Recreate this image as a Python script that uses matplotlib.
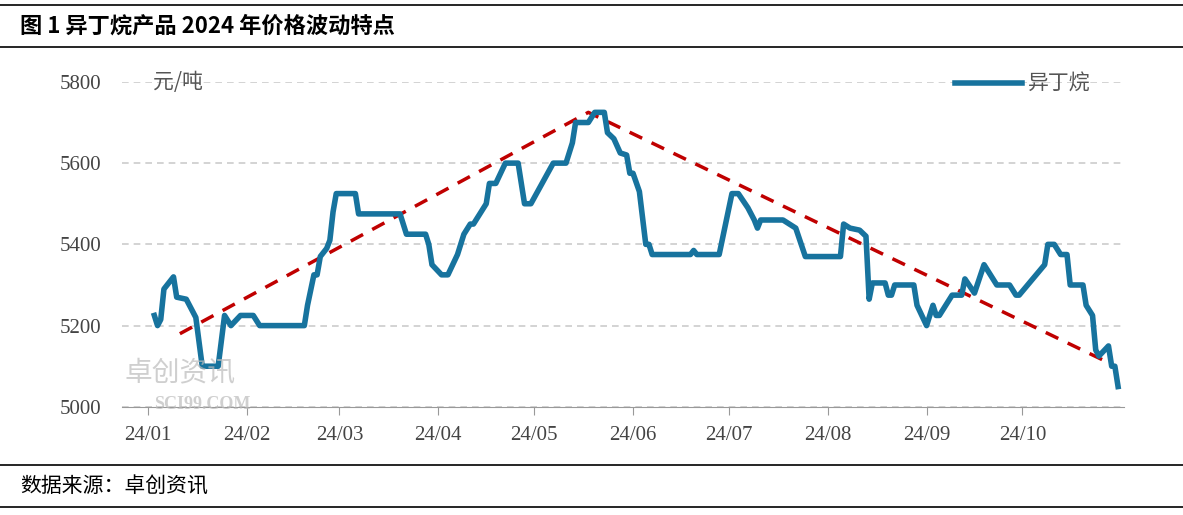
import matplotlib
matplotlib.use("Agg")
import matplotlib.pyplot as plt

days = [2,3,4,5,8,9,12,15,17,22,24,26,29,33,35,49,50,52,53,54,56,57,58,59,65,66,79,81,87,88,89,92,94,97,99,101,102,106,107,109,112,116,118,120,127,131,133,134,138,140,143,144,146,148,150,151,152,154,156,157,158,170,171,172,179,183,185,188,190,191,192,199,201,203,206,217,218,220,223,225,226,227,231,232,233,234,240,241,244,246,247,248,252,255,256,259,262,266,270,272,273,281,282,284,286,288,289,293,294,296,297,298,301,302,303,304]
values = [5225,5200,5215,5290,5320,5270,5265,5220,5100,5100,5225,5200,5225,5225,5200,5200,5250,5325,5325,5370,5390,5410,5480,5525,5525,5475,5475,5425,5425,5400,5350,5325,5325,5375,5425,5450,5450,5500,5550,5550,5600,5600,5500,5500,5600,5600,5650,5700,5700,5725,5725,5675,5660,5625,5620,5575,5575,5530,5400,5400,5375,5375,5385,5375,5375,5525,5525,5490,5460,5440,5460,5460,5450,5440,5370,5370,5450,5440,5435,5420,5265,5305,5305,5275,5275,5300,5300,5250,5200,5250,5225,5225,5275,5275,5315,5280,5350,5300,5300,5275,5275,5350,5400,5400,5375,5375,5300,5300,5250,5225,5140,5125,5150,5100,5100,5050]
trend_days = [10,138,302]
trend_values = [5180,5725,5105]
tick_days = [0,31,60,91,121,152,182,213,244,274]
tick_labels = ["24/01","24/02","24/03","24/04","24/05","24/06","24/07","24/08","24/09","24/10"]
yticks = [5000,5200,5400,5600,5800]

cjk = "Noto Sans CJK SC"
fig = plt.figure(figsize=(11.83,5.15), dpi=100)
ax = fig.add_axes([0.1035,0.21,0.847,0.631])
ax.plot(trend_days, trend_values, color="#C00000", lw=2.5, ls=(0,(4,3)))
ax.plot(days, values, color="#17739E", lw=4, label="异丁烷", solid_joinstyle="round")
ax.set_xlim(-8,306); ax.set_ylim(5000,5800)
ax.set_yticks(yticks)
ax.set_yticklabels([str(v) for v in yticks], fontfamily="Liberation Serif", fontsize=15, color="#444444")
ax.set_xticks(tick_days)
ax.set_xticklabels(tick_labels, fontfamily="Liberation Serif", fontsize=15, color="#444444")
ax.tick_params(axis="y", length=0, pad=15)
ax.tick_params(axis="x", length=6, color="#999999", pad=8)
ax.grid(axis="y", ls=(0,(4,3)), color="#CCCCCC", lw=1.2)
for s in ["top","right","left"]:
    ax.spines[s].set_visible(False)
ax.spines["bottom"].set_color("#999999")
ax.text(0.03,1.0,"元/吨", transform=ax.transAxes, fontfamily=cjk, fontsize=15, color="#555555", va="center")
leg = ax.legend(loc="upper right", bbox_to_anchor=(0.985,1.085), frameon=False, prop={"family":cjk,"size":15},
                handlelength=3.2, handletextpad=0.3)
for t in leg.get_texts(): t.set_color("#555555")
fig.text(0.105,0.26,"卓创资讯", fontfamily=cjk, fontsize=20, color="#BBBBBB", alpha=0.7)
fig.text(0.13,0.205,"SCI99.COM", fontfamily="Liberation Serif", fontsize=13, color="#BBBBBB", alpha=0.7, weight="bold")

for y in [1-5/515, 1-47/515, 1-465/515, 1-507/515]:
    fig.add_artist(plt.Line2D([0,1],[y,y], color="black", lw=1.2))
fig.text(0.017,1-26/515,"图 1 异丁烷产品 2024 年价格波动特点", fontfamily=cjk, fontsize=16, va="center", weight="bold")
fig.text(0.017,1-487/515,"数据来源：卓创资讯", fontfamily=cjk, fontsize=15, va="center")
fig.savefig("out.png", dpi=100)
